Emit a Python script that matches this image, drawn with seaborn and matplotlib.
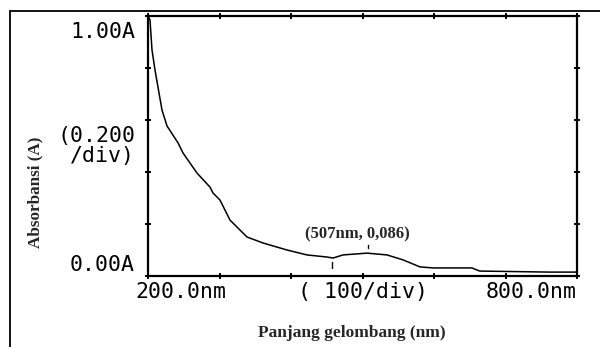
import matplotlib
matplotlib.use("Agg")
import matplotlib.pyplot as plt
import seaborn as sns
import pandas as pd
from matplotlib.patches import Rectangle

# ---- data ----
wavelength_nm = [200, 202.8, 205.6, 209.8, 219.6, 226.6, 242, 249, 268.5, 286.7,
                 291, 300.7, 314.7, 338.5, 360.8, 394.4, 422.4, 450.3, 458.7,
                 472.7, 506.3, 534.3, 556.6, 580.4, 598.6, 653, 664, 762, 800]
absorbance = [1.0, 0.985, 0.869, 0.792, 0.638, 0.577, 0.512, 0.473, 0.396, 0.342,
              0.319, 0.292, 0.215, 0.150, 0.127, 0.100, 0.081, 0.073, 0.069,
              0.081, 0.088, 0.081, 0.062, 0.035, 0.031, 0.031, 0.019, 0.015, 0.015]

peak_nm, peak_A = 507, 0.086
valley_nm, valley_A = 457, 0.069
peak_label = "(507nm, 0,086)"

x_ticks = [200, 300, 400, 500, 600, 700, 800]
y_ticks = [0.0, 0.2, 0.4, 0.6, 0.8, 1.0]
x_label_texts = ["200.0nm", "( 100/div)", "800.0nm"]
x_label_pos = [200, 500, 800]
y_label_texts = ["0.00A", "(0.200\n/div)", "1.00A"]
y_label_pos = [0.0, 0.5, 1.0]
x_title = "Panjang gelombang (nm)"
y_title = "Absorbansi (A)"

df = pd.DataFrame({"nm": wavelength_nm, "A": absorbance})

sns.set_style("ticks")
plt.rcParams["font.family"] = ["DejaVu Sans"]

fig = plt.figure(figsize=(6.0, 3.47), dpi=100)
ax = fig.add_axes([148 / 600, (347 - 276) / 347, (577 - 148) / 600, (276 - 16) / 347])

sns.lineplot(data=df, x="nm", y="A", ax=ax, color="black", linewidth=1.1)

ax.set_xlim(200, 800)
ax.set_ylim(0, 1.0)
ax.set_xticks(x_ticks)
ax.set_yticks(y_ticks)
ax.set_xticklabels([])
ax.set_yticklabels([])
ax.set_xlabel("")
ax.set_ylabel("")
ax.tick_params(direction="inout", length=5, width=1.4, top=True, right=True,
               color="black")
for s in ax.spines.values():
    s.set_visible(True)
    s.set_color("black")
    s.set_linewidth(1.6)

mono = dict(family="DejaVu Sans Mono", fontsize=15.5, color="black")

# y axis labels
yt = ax.get_yaxis_transform()
vas = ["bottom", "center", "top"]
offs = [1, 0, -6]
for txt, pos, va, off in zip(y_label_texts, y_label_pos, vas, offs):
    ax.annotate(txt, xy=(0, pos), xycoords=yt, xytext=(-13, off),
                textcoords="offset pixels", ha="right", va=va,
                multialignment="right", linespacing=0.95, **mono)

# x axis labels
xt = ax.get_xaxis_transform()
has = ["left", "center", "right"]
xoffs = [-13, 0, 0]
for txt, pos, ha, off in zip(x_label_texts, x_label_pos, has, xoffs):
    ax.annotate(txt, xy=(pos, 0), xycoords=xt, xytext=(off, -6),
                textcoords="offset pixels", ha=ha, va="top", **mono)

# peak annotation
ax.annotate(peak_label, xy=(peak_nm, peak_A), xytext=(-10, 19),
            textcoords="offset pixels", ha="center", va="center",
            family="Liberation Serif", fontweight="bold", fontsize=12)
ax.plot([peak_nm, peak_nm], [peak_A + 0.02, peak_A + 0.034], color="black", lw=1)
ax.plot([valley_nm, valley_nm], [valley_A - 0.015, valley_A - 0.04], color="black", lw=1)

# axis titles
fig.text(35 / 600, 1 - 192 / 347, y_title, rotation=90, ha="center", va="center",
         family="Liberation Serif", fontweight="bold", fontsize=12.3)
fig.text(352 / 600, 1 - 333 / 347, x_title, ha="center", va="center",
         family="Liberation Serif", fontweight="bold", fontsize=12.5)

# outer frame
fig.add_artist(Rectangle((10 / 600, -0.05), 1.2, (347 - 11) / 347 + 0.05,
                         transform=fig.transFigure, fill=False,
                         edgecolor="black", linewidth=1.3))

fig.savefig("out.png", dpi=100)
